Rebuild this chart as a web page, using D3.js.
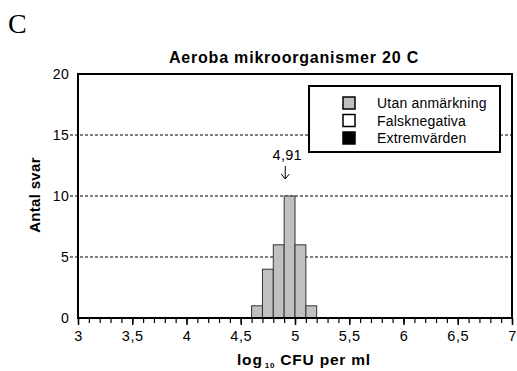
<!DOCTYPE html>
<html>
<head>
<meta charset="utf-8">
<script src="https://cdn.jsdelivr.net/npm/d3@7.9.0/dist/d3.min.js"></script>
<style>
  body { margin: 0; background: #fff; }
  svg { display: block; font-family: Arial, "Liberation Sans", sans-serif; }
</style>
</head>
<body>
<svg id="chart" width="517" height="371"></svg>
<script>
// Histogram bins (lower edge, log10 CFU per ml) and number of answers
const binStarts = [4.6, 4.7, 4.8, 4.9, 5.0, 5.1];
const binCounts = [1, 4, 6, 10, 6, 1];
const binWidth = 0.1;

// Axis ticks
const xMajorTicks = [3, 3.5, 4, 4.5, 5, 5.5, 6, 6.5, 7];
const yTicks = [0, 5, 10, 15, 20];

// Legend
const legendLabels = ['Utan anmärkning', 'Falsknegativa', 'Extremvärden'];
const legendFills = ['#c0c0c0', '#ffffff', '#000000'];

// Median marker
const medianValue = 4.91;

const svg = d3.select('#chart');

const x = d3.scaleLinear().domain([3, 7]).range([78, 512]);
const y = d3.scaleLinear().domain([0, 20]).range([318, 74]);

const fmt = (v) => String(v).replace('.', ',');

// Panel letter
svg.append('text')
  .attr('x', 8).attr('y', 33)
  .attr('font-family', 'Times New Roman, Liberation Serif, serif')
  .attr('font-size', 28)
  .text('C');

// Title
svg.append('text')
  .attr('x', 294).attr('y', 63)
  .attr('text-anchor', 'middle')
  .attr('font-weight', 'bold')
  .attr('font-size', 16)
  .attr('letter-spacing', 0.8)
  .text('Aeroba mikroorganismer 20 C');

// Dashed gridlines
svg.append('g')
  .selectAll('line')
  .data(yTicks.filter(d => d > 0 && d < 20))
  .join('line')
  .attr('x1', 70).attr('x2', x(7))
  .attr('y1', d => y(d)).attr('y2', d => y(d))
  .attr('stroke', '#000')
  .attr('stroke-width', 1)
  .attr('stroke-dasharray', '3,2');

// Y tick labels
svg.append('g')
  .selectAll('text')
  .data(yTicks)
  .join('text')
  .attr('x', 69)
  .attr('y', d => y(d) + 5)
  .attr('text-anchor', 'end')
  .attr('font-size', 14)
  .attr('letter-spacing', 0.3)
  .text(d => d);

// Bars
svg.append('g')
  .selectAll('rect')
  .data(binStarts)
  .join('rect')
  .attr('x', d => x(d))
  .attr('width', d => x(d + binWidth) - x(d))
  .attr('y', (d, i) => y(binCounts[i]))
  .attr('height', (d, i) => y(0) - y(binCounts[i]))
  .attr('fill', '#c0c0c0')
  .attr('stroke', '#333')
  .attr('stroke-width', 1);

// Plot frame
svg.append('rect')
  .attr('x', x(3)).attr('y', y(20))
  .attr('width', x(7) - x(3)).attr('height', y(0) - y(20))
  .attr('fill', 'none')
  .attr('stroke', '#000')
  .attr('stroke-width', 2);

// X axis: minor ticks every 0.1, major every 0.5
const minorTicks = d3.range(0, 41).map(i => 3 + i * 0.1);
svg.append('g')
  .attr('transform', `translate(0,${y(0)})`)
  .call(d3.axisBottom(x).tickValues(minorTicks).tickSize(5).tickFormat(''))
  .call(g => g.select('.domain').remove())
  .call(g => g.selectAll('line').attr('stroke-width', 1.2));

const xAxis = svg.append('g')
  .attr('transform', `translate(0,${y(0)})`)
  .call(d3.axisBottom(x).tickValues(xMajorTicks).tickSize(7).tickPadding(6).tickFormat(fmt));
xAxis.select('.domain').remove();
xAxis.selectAll('line').attr('stroke-width', 1.5);
xAxis.selectAll('text')
  .attr('font-size', 14.5)
  .attr('letter-spacing', 0.6)
  .attr('font-family', 'Arial, Liberation Sans, sans-serif')
  .attr('fill', '#000');

// X axis title with subscript
const xTitle = svg.append('text')
  .attr('x', 304).attr('y', 365)
  .attr('text-anchor', 'middle')
  .attr('font-weight', 'bold')
  .attr('font-size', 15.5)
  .attr('letter-spacing', 0.8);
xTitle.append('tspan').text('log');
xTitle.append('tspan').attr('font-size', 8).attr('dy', 3).attr('dx', 2).text('10');
xTitle.append('tspan').attr('dy', -3).text(' CFU per ml');

// Y axis title
svg.append('text')
  .attr('transform', 'translate(40,195) rotate(-90)')
  .attr('text-anchor', 'middle')
  .attr('font-weight', 'bold')
  .attr('font-size', 15)
  .attr('letter-spacing', 0.3)
  .text('Antal svar');

// Median annotation
svg.append('text')
  .attr('x', x(medianValue) + 2).attr('y', 160)
  .attr('text-anchor', 'middle')
  .attr('font-size', 14.5)
  .attr('letter-spacing', 0.3)
  .text(fmt(medianValue));
svg.append('line')
  .attr('x1', x(medianValue)).attr('x2', x(medianValue))
  .attr('y1', 166).attr('y2', 179)
  .attr('stroke', '#000').attr('stroke-width', 1);
svg.append('path')
  .attr('d', `M${x(medianValue) - 4},${174} L${x(medianValue)},${179} L${x(medianValue) + 4},${174}`)
  .attr('fill', 'none')
  .attr('stroke', '#000').attr('stroke-width', 1);

// Legend
const legend = svg.append('g');
legend.append('rect')
  .attr('x', 309).attr('y', 86)
  .attr('width', 191).attr('height', 66)
  .attr('fill', '#fff')
  .attr('stroke', '#000')
  .attr('stroke-width', 2);

const rows = legend.selectAll('g.row')
  .data(legendLabels)
  .join('g')
  .attr('class', 'row')
  .attr('transform', (d, i) => `translate(0,${103 + i * 17.5})`);
rows.append('rect')
  .attr('x', 343).attr('y', -6)
  .attr('width', 12).attr('height', 12)
  .attr('fill', (d, i) => legendFills[i])
  .attr('stroke', '#000')
  .attr('stroke-width', 1.5);
rows.append('text')
  .attr('x', 377).attr('y', 5)
  .attr('font-size', 14)
  .attr('letter-spacing', 0.2)
  .text(d => d);
</script>
</body>
</html>
